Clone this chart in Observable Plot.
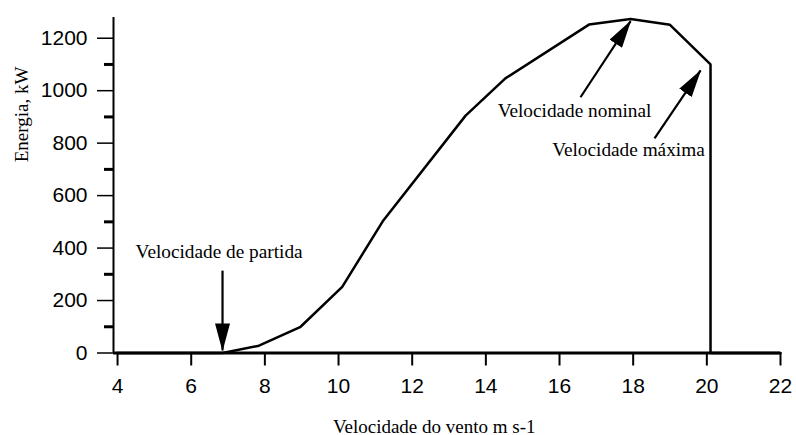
<!DOCTYPE html>
<html><head><meta charset="utf-8">
<script src="https://cdn.jsdelivr.net/npm/d3@7"></script>
<script src="https://cdn.jsdelivr.net/npm/@observablehq/plot@0.6"></script>
<style>body{margin:0;background:#fff} svg{display:block}</style>
</head><body><div id="chart"></div>
<script>
// Power curve (wind speed m/s -> power kW)
const windSpeed = [4, 6.85, 7.84, 8.97, 10.1, 11.2, 13.45, 14.53, 16.8, 17.93, 19.0, 20.1, 20.1, 22];
const power     = [0, 0,    28,   100,  252,  502,  905,   1047,  1252, 1273,  1251, 1100, 0,    0];

const xTicks = [4, 6, 8, 10, 12, 14, 16, 18, 20, 22];
const yTicks = [0, 200, 400, 600, 800, 1000, 1200];
const yMinorTicks = [100, 300, 500, 700, 900, 1100];

const annotationText = ["Velocidade de partida", "Velocidade nominal", "Velocidade máxima"];
const annotationX = [4.49, 14.32, 15.80];
const annotationY = [364, 901, 752];
const arrowFromX = [6.85, 16.57, 18.58];
const arrowFromY = [314, 975, 818];
const arrowToX = [6.85, 17.93, 19.83];
const arrowToY = [10, 1265, 1077];

const xLabel = "Velocidade do vento m s-1";
const yLabel = "Energia, kW";

const curve = windSpeed.map((x, i) => ({x, y: power[i]}));
const annotations = annotationText.map((t, i) => ({t, x: annotationX[i], y: annotationY[i]}));
const arrows = arrowFromX.map((x1, i) => ({x1, y1: arrowFromY[i], x2: arrowToX[i], y2: arrowToY[i]}));

const xMin = 3.89;
const serif = "'Liberation Serif', 'Times New Roman', serif";

const plot = Plot.plot({
  width: 796, height: 435,
  marginLeft: 113, marginRight: 16, marginTop: 17, marginBottom: 82.5,
  x: {domain: [xMin, 22]},
  y: {domain: [0, 1279]},
  style: {background: "white", fontFamily: "'Liberation Sans', Arial, sans-serif", color: "black"},
  marks: [
    Plot.axisX({ticks: xTicks, tickSize: 13, tickPadding: 12, fontSize: 21, strokeWidth: 2, label: null, tickFormat: d => String(d)}),
    Plot.axisY({ticks: yTicks, tickSize: 16, tickPadding: 10, fontSize: 21, strokeWidth: 1.5, label: null, tickFormat: d => String(d)}),
    Plot.axisY({ticks: yMinorTicks, tickSize: 9, tickFormat: () => "", strokeWidth: 3, label: null}),
    Plot.ruleX([xMin], {strokeWidth: 2}),
    Plot.ruleY([0], {strokeWidth: 3}),
    Plot.line(curve, {x: "x", y: "y", strokeWidth: 2.5, strokeLinejoin: "miter"}),
    Plot.link(arrows, {x1: "x1", y1: "y1", x2: "x2", y2: "y2", strokeWidth: 2.2}),
    Plot.text(annotations, {x: "x", y: "y", text: "t", textAnchor: "start", lineAnchor: "bottom",
      fontFamily: serif, fontSize: 19.3, fill: "black"}),
    Plot.text([xLabel], {frameAnchor: "bottom", dx: -12.8, dy: 79.5, lineAnchor: "bottom",
      fontFamily: serif, fontSize: 19, fill: "black"}),
    Plot.text([yLabel], {frameAnchor: "left", dx: -92, dy: -23, rotate: -90, lineAnchor: "middle",
      fontFamily: serif, fontSize: 19, fill: "black"})
  ]
});

// filled triangular arrowheads on the link paths
const ns = "http://www.w3.org/2000/svg";
const defs = document.createElementNS(ns, "defs");
const marker = document.createElementNS(ns, "marker");
marker.setAttribute("id", "ahead");
marker.setAttribute("markerUnits", "userSpaceOnUse");
marker.setAttribute("markerWidth", "28");
marker.setAttribute("markerHeight", "15");
marker.setAttribute("viewBox", "0 0 28 15");
marker.setAttribute("refX", "27");
marker.setAttribute("refY", "7.5");
marker.setAttribute("orient", "auto");
const tri = document.createElementNS(ns, "path");
tri.setAttribute("d", "M0,0 L28,7.5 L0,15 Z");
tri.setAttribute("fill", "black");
marker.appendChild(tri);
defs.appendChild(marker);
plot.insertBefore(defs, plot.firstChild);
plot.querySelectorAll('g[aria-label="link"] path').forEach(p => p.setAttribute("marker-end", "url(#ahead)"));

document.getElementById("chart").appendChild(plot);
</script>
</body></html>
